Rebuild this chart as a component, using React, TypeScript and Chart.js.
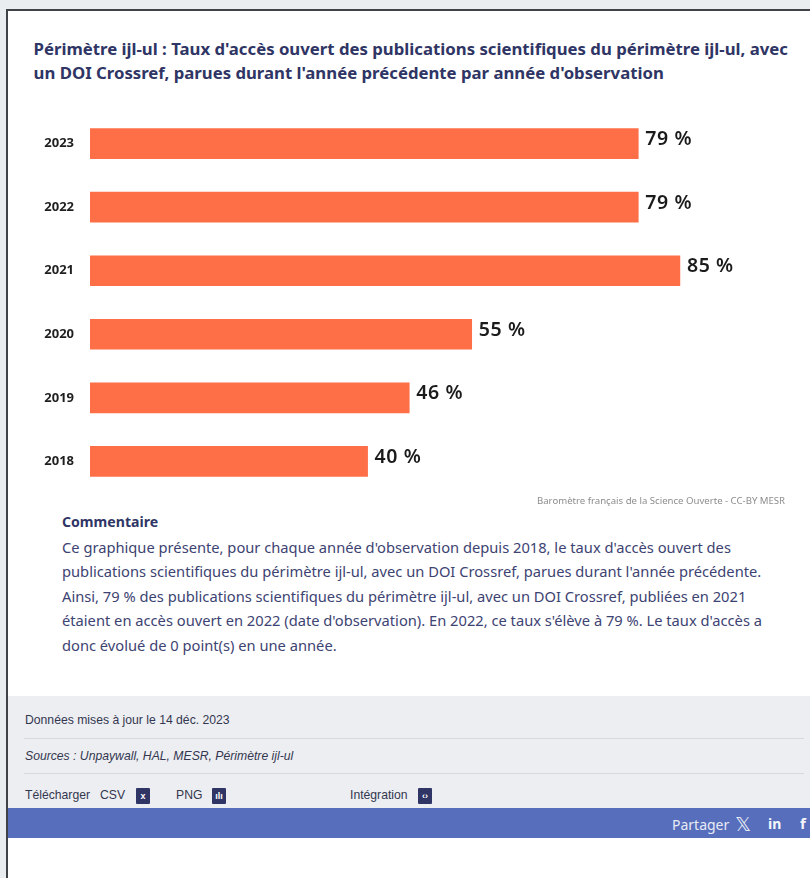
import React, { useEffect, useRef } from "react";
import { Chart, registerables } from "chart.js";

Chart.register(...registerables);

const years = ["2023", "2022", "2021", "2020", "2019", "2018"];
const rates = [79, 79, 85, 55, 46, 40];

const titleLines = [
  "Périmètre ijl-ul : Taux d'accès ouvert des publications scientifiques du périmètre ijl-ul, avec",
  "un DOI Crossref, parues durant l'année précédente par année d'observation",
];
const commentLines = [
  "Ce graphique présente, pour chaque année d'observation depuis 2018, le taux d'accès ouvert des",
  "publications scientifiques du périmètre ijl-ul, avec un DOI Crossref, parues durant l'année précédente.",
  "Ainsi, 79 % des publications scientifiques du périmètre ijl-ul, avec un DOI Crossref, publiées en 2021",
  "étaient en accès ouvert en 2022 (date d'observation). En 2022, ce taux s'élève à 79 %. Le taux d'accès a",
  "donc évolué de 0 point(s) en une année.",
];

const navy = "#2f3565";
const commentColor = "#3d4372";

const valueLabels = {
  id: "valueLabels",
  afterDatasetsDraw(chart: any) {
    const { ctx } = chart;
    const meta = chart.getDatasetMeta(0);
    ctx.save();
    ctx.font = '600 19.5px "Noto Sans"';
    ctx.fillStyle = "#1b1b1b";
    ctx.textAlign = "left";
    ctx.textBaseline = "middle";
    (ctx as any).letterSpacing = "0.6px";
    meta.data.forEach((bar: any, i: number) => {
      ctx.fillText(`${rates[i]} %`, bar.x + 7, bar.y - 4);
    });
    ctx.restore();
  },
};

const abs = (left: number, top: number, extra: React.CSSProperties = {}): React.CSSProperties => ({
  position: "absolute",
  left,
  top,
  whiteSpace: "nowrap",
  ...extra,
});

function Icon({ left, glyph }: { left: number; glyph: string }) {
  return (
    <div
      style={abs(left, 788, {
        width: 14,
        height: 16,
        background: "#2f3565",
        color: "#fff",
        fontFamily: '"Liberation Sans"',
        fontWeight: 700,
        fontSize: 9,
        lineHeight: "16px",
        textAlign: "center",
        borderRadius: 1,
      })}
    >
      {glyph}
    </div>
  );
}

export default function App() {
  const ref = useRef<HTMLCanvasElement>(null);

  useEffect(() => {
    document.body.style.margin = "0";
    const chart = new Chart(ref.current!, {
      type: "bar",
      data: {
        labels: years,
        datasets: [{ data: rates, backgroundColor: "#fe6f47", barThickness: 30, borderWidth: 0 }],
      },
      plugins: [valueLabels],
      options: {
        indexAxis: "y",
        animation: false,
        responsive: false,
        devicePixelRatio: 1,
        layout: { padding: { left: 0, right: 26, top: 0, bottom: 0 } },
        plugins: { legend: { display: false }, tooltip: { enabled: false }, title: { display: false } },
        scales: {
          x: { display: false, min: 0, max: 100 },
          y: {
            afterFit: (s: any) => {
              s.width = 90;
            },
            grid: { display: false, tickLength: 16 },
            border: { display: false },
            ticks: {
              color: "#1f1f1f",
              padding: 0,
              font: { family: '"Noto Sans"', size: 13, weight: 700 },
            },
          },
        },
      },
    } as any);
    return () => chart.destroy();
  }, []);

  const footer: React.CSSProperties = {
    fontFamily: '"Liberation Sans"',
    fontSize: 12.2,
    lineHeight: "14px",
    color: "#33374f",
  };

  return (
    <div style={{ position: "relative", width: 810, height: 878, overflow: "hidden", background: "#fff" }}>
      <div style={abs(0, 0, { width: 810, height: 9, background: "#e9edf0" })} />
      <div style={abs(0, 9, { width: 810, height: 2, background: "#3f4348" })} />
      <div style={abs(0, 0, { width: 6, height: 878, background: "#e9edf0" })} />
      <div style={abs(6, 9, { width: 2, height: 869, background: "#3f4348" })} />

      {titleLines.map((line, i) => (
        <div
          key={i}
          style={abs(33.5, 36 + i * 24, {
            fontFamily: '"Noto Sans"',
            fontWeight: 700,
            fontSize: 16.75,
            lineHeight: "25px",
            color: navy,
          })}
        >
          {line}
        </div>
      ))}

      <canvas ref={ref} width={810} height={397} style={{ position: "absolute", left: 0, top: 104, display: "block" }} />

      <div style={abs(537, 494, { fontFamily: '"Noto Sans"', fontSize: 9.6, color: "#8d8d8d" })}>
        Baromètre français de la Science Ouverte - CC-BY MESR
      </div>

      <div style={abs(62, 512, { fontFamily: '"Noto Sans"', fontWeight: 700, fontSize: 14.1, lineHeight: "20px", color: navy })}>
        Commentaire
      </div>
      {commentLines.map((line, i) => (
        <div
          key={i}
          style={abs(62, 534.5 + i * 24.5, {
            fontFamily: '"Noto Sans"',
            fontSize: 14.7,
            lineHeight: "24px",
            color: commentColor,
          })}
        >
          {line}
        </div>
      ))}

      <div style={abs(8, 696, { width: 802, height: 112, background: "#edeef2" })} />
      <div style={abs(25, 713, footer)}>Données mises à jour le 14 déc. 2023</div>
      <div style={abs(24, 738, { width: 780, height: 1, background: "#d8d9dc" })} />
      <div style={abs(25, 749, { ...footer, fontStyle: "italic" })}>Sources : Unpaywall, HAL, MESR, Périmètre ijl-ul</div>
      <div style={abs(24, 773, { width: 780, height: 1, background: "#d8d9dc" })} />
      <div style={abs(25, 788, footer)}>Télécharger</div>
      <div style={abs(100, 788, footer)}>CSV</div>
      <Icon left={136} glyph="x" />
      <div style={abs(176, 788, footer)}>PNG</div>
      <Icon left={212} glyph="ılı" />
      <div style={abs(350, 788, footer)}>Intégration</div>
      <Icon left={418} glyph="‹›" />

      <div style={abs(8, 808, { width: 802, height: 30, background: "#566ebb" })} />
      <div style={abs(672, 815, { fontFamily: '"Noto Sans"', fontSize: 14, lineHeight: "19px", color: "#e8ebf6" })}>Partager</div>
      <div style={abs(735, 812, { fontFamily: '"DejaVu Sans"', fontSize: 20, lineHeight: "24px", color: "#e8ebf6" })}>𝕏</div>
      <div style={abs(768, 814, { fontFamily: '"Noto Sans"', fontWeight: 700, fontSize: 14, lineHeight: "19px", color: "#f4f5fb" })}>in</div>
      <div style={abs(800, 814, { fontFamily: '"Noto Sans"', fontWeight: 700, fontSize: 15, lineHeight: "19px", color: "#f4f5fb" })}>f</div>
    </div>
  );
}
